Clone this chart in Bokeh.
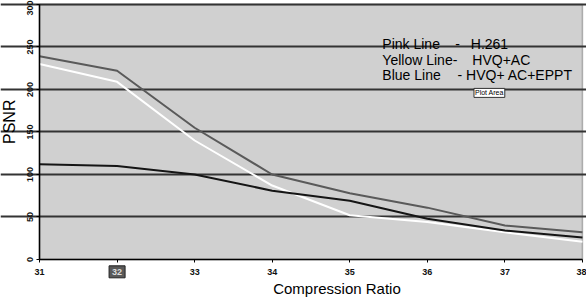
import math
from bokeh.plotting import figure
from bokeh.models import Range1d, FixedTicker, Label, BoxAnnotation
from bokeh.embed import file_html
from bokeh.resources import INLINE

ratio = [31, 32, 33, 34, 35, 36, 37, 38]
h261 = [239, 222, 155, 100, 78, 61, 40, 32]
hvq_ac = [230, 209, 140, 87, 52, 44, 32, 21]
hvq_ac_eppt = [112, 110, 100, 81, 69, 48, 34, 26]
y_ticks = [0, 50, 100, 150, 200, 250, 300]
x_ticks = [31, 32, 33, 34, 35, 36, 37, 38]

FONT = "Liberation Sans"
X0, X1 = min(x_ticks), max(x_ticks)
Y0, Y1 = min(y_ticks), max(y_ticks)

# the frame fills the canvas; both axes sit inside it at the plot-area edges
p = figure(width=586, height=299, output_backend="svg", toolbar_location=None,
           x_range=Range1d(30.497, 38.052), y_range=Range1d(-47.06, 304.7),
           min_border_left=0, min_border_right=0, min_border_top=0, min_border_bottom=0)
p.background_fill_color = "white"
p.border_fill_color = "white"
p.outline_line_color = None

# grey plot area with its border
p.add_layout(BoxAnnotation(left=X0, right=X1, bottom=Y0, top=Y1,
                           fill_color="#d0d0d0", fill_alpha=1,
                           line_color="#222222", line_width=1.5, level="image"))

p.xgrid.grid_line_color = None
p.ygrid.grid_line_color = "#333333"
p.ygrid.grid_line_width = 2
p.ygrid.ticker = FixedTicker(ticks=y_ticks[1:])
p.ygrid.bounds = (X0, X1)

p.yaxis.ticker = FixedTicker(ticks=y_ticks)
p.yaxis.bounds = (Y0, Y1)
p.yaxis.fixed_location = X0
p.xaxis.ticker = FixedTicker(ticks=x_ticks)
p.xaxis.bounds = (X0, X1)
p.xaxis.fixed_location = Y0
p.yaxis.major_label_orientation = "vertical"
for ax in (p.xaxis, p.yaxis):
    ax.axis_line_color = "black"
    ax.axis_line_width = 1.5
    ax.major_tick_line_color = "black"
    ax.major_tick_in = 0
    ax.major_tick_out = 3
    ax.minor_tick_line_color = None
    ax.major_label_text_font = FONT
    ax.major_label_text_color = "#111111"
    ax.major_label_text_font_style = "bold"
p.yaxis.major_label_text_font_size = "9px"
p.xaxis.major_label_text_font_size = "9px"
p.yaxis.major_label_standoff = 4
p.xaxis.major_label_standoff = 5
p.xaxis.major_label_overrides = {32: " "}

p.line(ratio, h261, line_color="#5a5a5a", line_width=2)
p.line(ratio, hvq_ac, line_color="white", line_width=2)
p.line(ratio, hvq_ac_eppt, line_color="#151515", line_width=2)

# axis titles
p.add_layout(Label(x=30.613, y=162, text="PSNR", angle=math.pi / 2, text_font=FONT,
                   text_font_size="16px", text_align="center", text_baseline="middle",
                   text_color="black"))
p.add_layout(Label(x=34.835, y=-34, text="Compression Ratio", text_font=FONT,
                   text_font_size="15px", text_align="center", text_baseline="middle",
                   text_color="black"))

def txt(x, y, s, size="14px", **kw):
    lab = Label(x=x, y=y, text=s, text_font=FONT, text_font_size=size,
                text_color="black", text_baseline="alphabetic", **kw)
    p.add_layout(lab)

txt(35.42, 254, "Pink Line")
txt(36.36, 254, "-")
txt(36.56, 254, "H.261")
txt(35.42, 235, "Yellow Line-")
txt(36.58, 235, "HVQ+AC")
txt(35.42, 216.5, "Blue Line")
txt(36.39, 216.5, "-")
txt(36.50, 216.5, "HVQ+ AC+EPPT")

p.add_layout(Label(x=36.8, y=196, text="Plot Area", text_font=FONT, text_font_size="7px",
                   text_align="center", text_baseline="middle", text_color="black",
                   background_fill_color="white", border_line_color="#333333",
                   padding=1))

p.add_layout(Label(x=32, y=-14.5, text="32", text_font=FONT, text_font_style="bold",
                   text_font_size="9px",
                   text_align="center", text_baseline="middle", text_color="#dddddd",
                   background_fill_color="#5a5a5a", border_line_color="#222222",
                   padding=3))

open("out.html", "w").write(file_html(p, INLINE))
